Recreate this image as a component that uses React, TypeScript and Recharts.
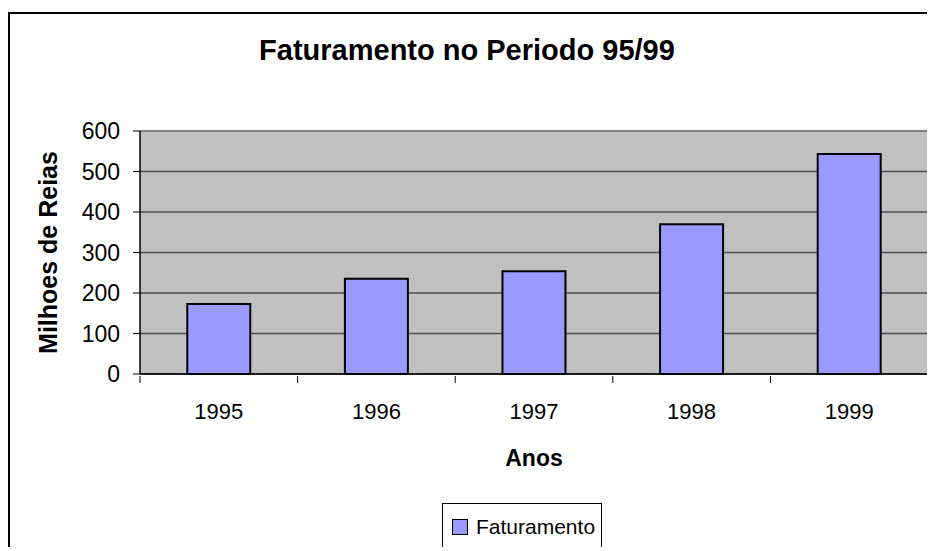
import { Bar, BarChart, CartesianGrid, Label, Legend, XAxis, YAxis } from "recharts";

const anos = ["1995", "1996", "1997", "1998", "1999"];
const faturamento = [173, 235, 254, 370, 543];
const yTicks = [0, 100, 200, 300, 400, 500, 600];

const data = anos.map((ano, i) => ({ ano, faturamento: faturamento[i] }));

const FONT = "'Liberation Sans', Arial, sans-serif";
const PLOT_LEFT = 132;
const PLOT_RIGHT = 920;
const BAND = (PLOT_RIGHT - PLOT_LEFT) / anos.length;

function AnoTick(props: any) {
  const { x, y, payload, index } = props;
  return (
    <g>
      <line x1={x - BAND / 2} x2={x - BAND / 2} y1={y} y2={y + 7} stroke="#000" />
      {index === anos.length - 1 && (
        <line x1={x + BAND / 2} x2={x + BAND / 2} y1={y} y2={y + 7} stroke="#000" />
      )}
      <text x={x} y={y + 43} textAnchor="middle" fontSize={22} fontFamily={FONT} fill="#000">
        {payload.value}
      </text>
    </g>
  );
}

function LegendBox() {
  return (
    <div
      style={{
        display: "flex",
        alignItems: "center",
        height: 48,
        boxSizing: "border-box",
        border: "1px solid #000",
        padding: "0 6px 0 9px",
        fontFamily: FONT,
        fontSize: 21,
        color: "#000",
        background: "#fff",
      }}
    >
      <span
        style={{
          width: 16,
          height: 16,
          boxSizing: "border-box",
          border: "1.5px solid #000",
          background: "#9999FF",
          marginRight: 8,
        }}
      />
      Faturamento
    </div>
  );
}

export default function App() {
  return (
    <div style={{ position: "relative", top: 4, width: 927, height: 539, overflow: "hidden" }}>
      <div
        style={{
          position: "absolute",
          left: 0,
          top: 0,
          width: 1000,
          height: 1000,
          border: "2px solid #000",
          boxSizing: "border-box",
        }}
      />
      <div
        style={{
          position: "absolute",
          left: 0,
          width: 918,
          top: 22,
          textAlign: "center",
          fontFamily: FONT,
          fontWeight: "bold",
          fontSize: 29,
          color: "#000",
        }}
      >
        Faturamento no Periodo 95/99
      </div>
      <div style={{ position: "absolute", left: 0, top: 0 }}>
        <BarChart
          width={927}
          height={539}
          data={data}
          margin={{ top: 119, right: 7, left: 32, bottom: 82 }}
          barCategoryGap="30%"
        >
          <CartesianGrid vertical={false} fill="#C0C0C0" stroke="#4d4d4d" strokeWidth={1.5} />
          <CartesianGrid
            horizontalPoints={[119]}
            verticalPoints={[PLOT_RIGHT]}
            stroke="#808080"
            strokeWidth={2}
          />
          <XAxis
            dataKey="ano"
            height={95}
            tickLine={false}
            tickSize={0}
            tick={<AnoTick />}
            axisLine={{ stroke: "#000", strokeWidth: 1.5 }}
          >
            <Label
              value="Anos"
              position="insideBottom"
              offset={3}
              style={{ fontFamily: FONT, fontSize: 23, fontWeight: "bold", fill: "#000" }}
            />
          </XAxis>
          <YAxis
            width={100}
            domain={[0, 600]}
            ticks={yTicks}
            interval={0}
            tickSize={7}
            tickMargin={13}
            tick={{ fontFamily: FONT, fontSize: 23, fill: "#000" }}
            tickLine={{ stroke: "#000" }}
            axisLine={{ stroke: "#000", strokeWidth: 1.5 }}
          >
            <Label
              value="Milhoes de Reias"
              angle={-90}
              position="center"
              dx={-42}
              style={{ fontFamily: FONT, fontSize: 25, fontWeight: "bold", fill: "#000" }}
            />
          </YAxis>
          <Legend
            layout="horizontal"
            verticalAlign="middle"
            align="center"
            content={() => <LegendBox />}
            wrapperStyle={{ left: 434, top: 491, width: "auto", height: "auto" }}
          />
          <Bar
            dataKey="faturamento"
            name="Faturamento"
            fill="#9999FF"
            stroke="#000"
            strokeWidth={2}
            isAnimationActive={false}
          />
        </BarChart>
      </div>
    </div>
  );
}
